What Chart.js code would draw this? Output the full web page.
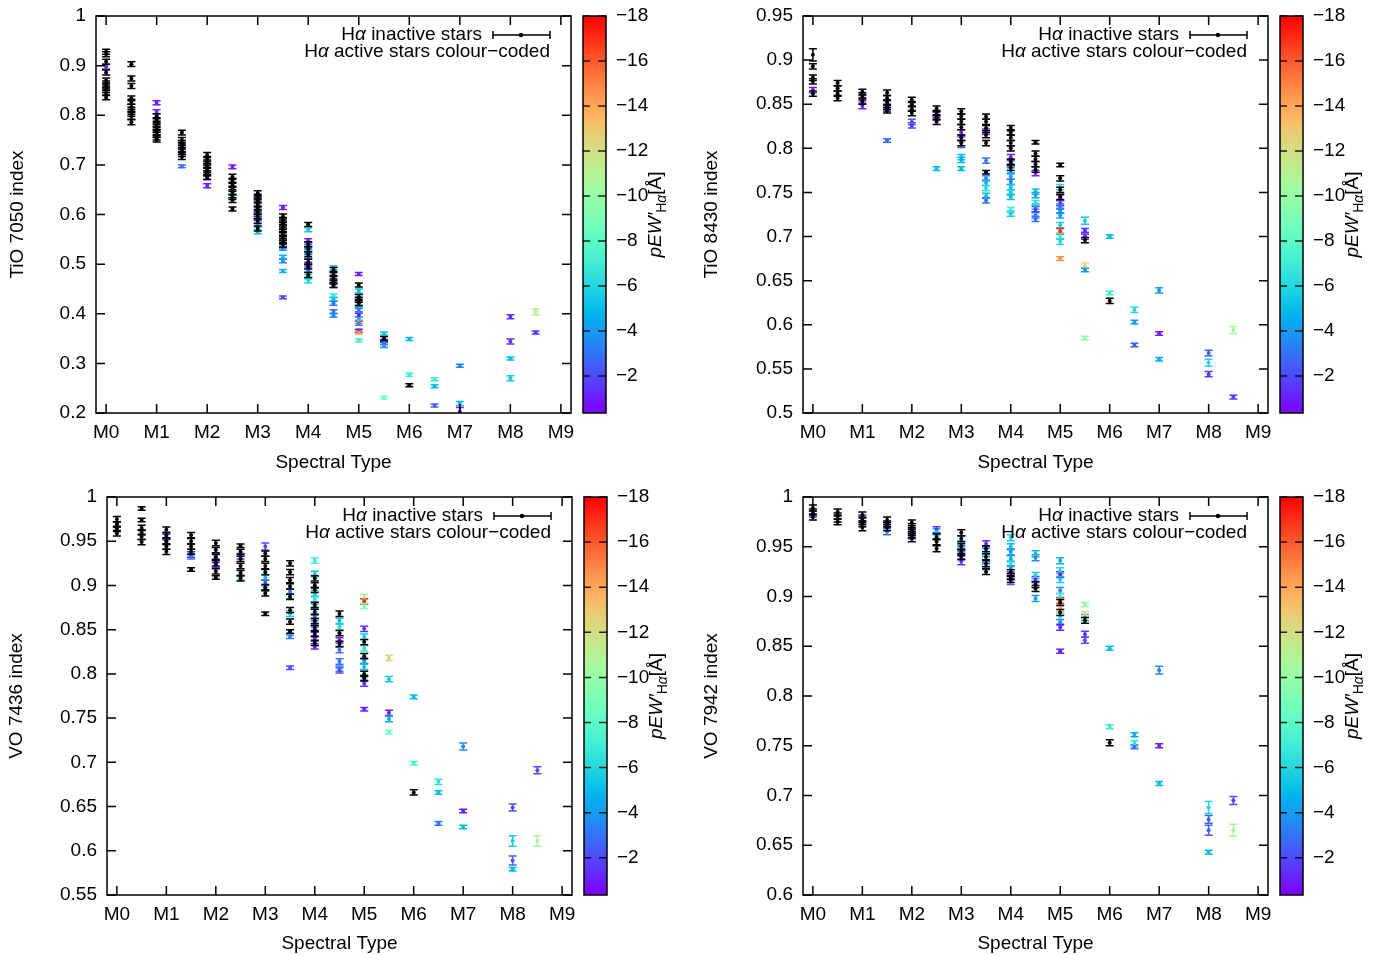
<!DOCTYPE html>
<html>
<head>
<meta charset="utf-8">
<script src="https://cdn.jsdelivr.net/npm/chart.js@4/dist/chart.umd.min.js"></script>
<style>
  body { margin: 0; background: #fff; width: 1383px; height: 955px; position: relative; overflow: hidden; }
  canvas { position: absolute; }
</style>
</head>
<body>
<canvas id="c1" width="691" height="477" style="left:0;top:0"></canvas>
<canvas id="c2" width="691" height="477" style="left:692px;top:0"></canvas>
<canvas id="c3" width="691" height="477" style="left:0;top:478px"></canvas>
<canvas id="c4" width="691" height="477" style="left:692px;top:478px"></canvas>
<script>
// x axis: spectral types
const spectralTicks = [0, 1, 2, 3, 4, 5, 6, 7, 8, 9];
const spectralLabels = ['M0', 'M1', 'M2', 'M3', 'M4', 'M5', 'M6', 'M7', 'M8', 'M9'];

// colour bar (pEW' H-alpha, Angstrom)
const cbMin = -18;
const cbMax = -0.35;
const cbTicks = [-2, -4, -6, -8, -10, -12, -14, -16, -18];

// rows: [spectral type, index, error, pEW]   pEW null = inactive (black)
const tio7050 = [
  [0,.928,.005,null],[0,.923,.005,null],[0,.908,.005,null],[0,.886,.005,null],[0,.870,.005,null],[0,.864,.005,null],[0,.858,.005,null],[0,.851,.005,null],[0,.845,.005,null],[0,.836,.005,null],[0,.898,.005,-1],
  [.5,.903,.005,null],[.5,.874,.005,null],[.5,.859,.005,null],[.5,.834,.005,null],[.5,.827,.005,null],[.5,.817,.005,null],[.5,.811,.005,null],[.5,.803,.005,null],[.5,.797,.005,null],[.5,.786,.005,null],
  [1,.798,.005,null],[1,.790,.005,null],[1,.783,.005,null],[1,.777,.005,null],[1,.771,.005,null],[1,.765,.005,null],[1,.760,.005,null],[1,.755,.005,null],[1,.751,.005,null],[1,.825,.004,-1],[1,.807,.004,-1.5],
  [1.5,.765,.005,null],[1.5,.750,.005,null],[1.5,.744,.005,null],[1.5,.737,.005,null],[1.5,.730,.005,null],[1.5,.722,.005,null],[1.5,.716,.005,null],[1.5,.729,.005,-1],[1.5,.697,.003,-3],
  [2,.720,.005,null],[2,.712,.005,null],[2,.705,.005,null],[2,.698,.005,null],[2,.690,.005,null],[2,.683,.005,null],[2,.676,.005,null],[2,.698,.004,-2.5],[2,.674,.004,-1],[2,.658,.004,-1],
  [2.5,.676,.005,null],[2.5,.668,.005,null],[2.5,.660,.005,null],[2.5,.652,.005,null],[2.5,.645,.005,null],[2.5,.635,.005,null],[2.5,.629,.005,null],[2.5,.611,.004,null],[2.5,.696,.004,-1],[2.5,.638,.004,-5],
  [3,.643,.005,null],[3,.636,.005,null],[3,.628,.005,null],[3,.620,.005,null],[3,.612,.005,null],[3,.605,.005,null],[3,.596,.005,null],[3,.587,.005,null],[3,.572,.005,null],[3,.633,.004,-1],[3,.600,.004,-3],[3,.592,.004,-1],[3,.579,.004,-5],[3,.565,.004,-5],
  [3.5,.596,.005,null],[3.5,.589,.005,null],[3.5,.582,.005,null],[3.5,.575,.005,null],[3.5,.568,.005,null],[3.5,.560,.005,null],[3.5,.553,.005,null],[3.5,.546,.005,null],[3.5,.539,.005,null],[3.5,.614,.004,-1],[3.5,.536,.004,-5],[3.5,.532,.004,-3],[3.5,.514,.004,-5],[3.5,.507,.004,-3.5],[3.5,.486,.003,-5],[3.5,.433,.003,-2],
  [4,.580,.004,null],[4,.540,.005,null],[4,.530,.005,null],[4,.520,.005,null],[4,.505,.005,null],[4,.495,.005,null],[4,.478,.005,null],[4,.569,.004,-5.5],[4,.547,.004,-1],[4,.535,.004,-3],[4,.525,.004,-4.5],[4,.515,.004,-3],[4,.500,.004,-1],[4,.488,.004,-3],[4,.475,.004,-5.5],[4,.466,.004,-6],
  [4.5,.488,.005,null],[4.5,.480,.005,null],[4.5,.472,.005,null],[4.5,.465,.005,null],[4.5,.458,.005,null],[4.5,.492,.004,-5],[4.5,.457,.004,-3],[4.5,.436,.004,-6.5],[4.5,.429,.004,-5],[4.5,.421,.004,-3],[4.5,.404,.004,-3],[4.5,.397,.004,-3.5],
  [5,.458,.004,null],[5,.434,.005,null],[5,.428,.005,null],[5,.421,.005,null],[5,.480,.003,-1],[5,.446,.004,-5],[5,.414,.004,-5.5],[5,.408,.004,-3],[5,.397,.004,-1],[5,.389,.004,-5],[5,.384,.003,-15],[5,.381,.004,-3.5],[5,.366,.003,-1],[5,.362,.003,-14.5],[5,.346,.003,-7],
  [5.5,.350,.004,null],[5.5,.360,.003,-5.5],[5.5,.345,.003,-1],[5.5,.341,.003,-3],[5.5,.335,.003,-4],[5.5,.231,.003,-9],
  [6,.256,.003,null],[6,.349,.003,-5],[6,.277,.003,-7],
  [6.5,.268,.003,-7],[6.5,.254,.003,-5],[6.5,.215,.003,-2.5],
  [7,.295,.003,-3.5],[7,.219,.004,-5],[7,.203,.008,-1],
  [8,.394,.004,-1.5],[8,.344,.005,-1.5],[8,.310,.003,-5],[8,.270,.005,-5.5],
  [8.5,.404,.006,-11],[8.5,.362,.003,-1.5]
];

const tio8430 = [
  [0,.906,.007,null],[0,.893,.003,null],[0,.880,.003,null],[0,.876,.003,null],[0,.862,.003,null],[0,.866,.003,-1],
  [.5,.874,.003,null],[.5,.868,.003,null],[.5,.862,.003,null],[.5,.857,.003,null],
  [1,.864,.003,null],[1,.860,.003,null],[1,.853,.003,null],[1,.857,.003,-1],[1,.848,.003,-1],
  [1.5,.863,.003,null],[1.5,.857,.003,null],[1.5,.852,.003,null],[1.5,.847,.003,null],[1.5,.843,.003,null],[1.5,.845,.003,-1],[1.5,.809,.002,-3],
  [2,.855,.003,null],[2,.850,.003,null],[2,.845,.003,null],[2,.840,.003,null],[2,.830,.003,-2.5],[2,.826,.003,-1.5],
  [2.5,.845,.003,null],[2.5,.840,.003,null],[2.5,.835,.003,null],[2.5,.830,.003,null],[2.5,.838,.003,-1],[2.5,.777,.002,-5],
  [3,.842,.003,null],[3,.836,.003,null],[3,.830,.003,null],[3,.824,.003,null],[3,.812,.003,null],[3,.806,.003,null],[3,.818,.003,-1],[3,.807,.006,-2],[3,.790,.003,-5],[3,.787,.003,-4.5],[3,.777,.002,-5],
  [3.5,.836,.003,null],[3.5,.830,.003,null],[3.5,.823,.003,null],[3.5,.815,.003,null],[3.5,.806,.003,null],[3.5,.773,.002,null],[3.5,.819,.003,-1],[3.5,.786,.003,-3],[3.5,.766,.003,-3.5],[3.5,.761,.003,-5],[3.5,.755,.003,-6],[3.5,.746,.003,-5],[3.5,.741,.003,-3],
  [4,.823,.003,null],[4,.818,.003,null],[4,.812,.003,null],[4,.806,.003,null],[4,.800,.003,null],[4,.785,.003,null],[4,.778,.003,null],[4,.790,.003,-1],[4,.783,.003,-3],[4,.775,.003,-3.5],[4,.768,.003,-4.5],[4,.762,.003,-3],[4,.756,.003,-5],[4,.750,.003,-5.5],[4,.745,.003,-5],[4,.730,.003,-7],[4,.726,.003,-5.5],
  [4.5,.807,.002,null],[4.5,.794,.003,null],[4.5,.788,.003,null],[4.5,.782,.003,null],[4.5,.776,.003,null],[4.5,.772,.003,-1],[4.5,.751,.003,-5],[4.5,.747,.003,-4],[4.5,.738,.003,-6.5],[4.5,.734,.003,-5],[4.5,.731,.003,-1.5],[4.5,.724,.003,-3],[4.5,.720,.003,-3],
  [5,.781,.002,null],[5,.766,.003,null],[5,.753,.003,null],[5,.745,.003,null],[5,.756,.003,-6],[5,.744,.003,-1],[5,.738,.003,-1.5],[5,.734,.003,-3],[5,.729,.003,-3.5],[5,.724,.003,-4],[5,.713,.003,-5.5],[5,.706,.003,-17],[5,.701,.003,-7],[5,.694,.003,-6],[5,.675,.002,-14.5],
  [5.5,.696,.003,null],[5.5,.718,.004,-5.5],[5.5,.707,.002,-1.5],[5.5,.700,.003,-1],[5.5,.667,.003,-12.5],[5.5,.662,.002,-4],[5.5,.585,.002,-10],
  [6,.627,.003,null],[6,.700,.002,-5],[6,.636,.002,-7],
  [6.5,.617,.003,-6],[6.5,.603,.002,-4],[6.5,.577,.002,-2.5],
  [7,.639,.003,-4],[7,.590,.002,-1],[7,.561,.002,-4.5],
  [8,.568,.003,-2.5],[8,.557,.004,-6],[8,.544,.003,-1.5],
  [8.5,.594,.004,-10.5],[8.5,.518,.002,-1.5]
];

const vo7436 = [
  [0,.975,.003,null],[0,.969,.003,null],[0,.964,.003,null],[0,.959,.003,null],[0,.969,.003,-1],
  [.5,.987,.002,null],[.5,.974,.002,null],[.5,.965,.003,null],[.5,.960,.003,null],[.5,.955,.003,null],[.5,.949,.003,null],
  [1,.963,.003,null],[1,.957,.003,null],[1,.950,.003,null],[1,.944,.003,null],[1,.938,.003,null],[1,.955,.003,-1],[1,.949,.003,-1.5],
  [1.5,.957,.003,null],[1.5,.950,.003,null],[1.5,.944,.003,null],[1.5,.938,.003,null],[1.5,.918,.002,null],[1.5,.935,.003,-1],[1.5,.933,.003,-3],
  [2,.948,.003,null],[2,.940,.003,null],[2,.932,.003,null],[2,.925,.003,null],[2,.916,.003,null],[2,.909,.002,null],[2,.933,.003,-2.5],[2,.923,.003,-1],
  [2.5,.945,.002,null],[2.5,.938,.003,null],[2.5,.930,.003,null],[2.5,.922,.003,null],[2.5,.914,.003,null],[2.5,.908,.003,null],[2.5,.933,.003,-1],[2.5,.909,.003,-5],
  [3,.936,.003,null],[3,.930,.003,null],[3,.922,.003,null],[3,.915,.003,null],[3,.898,.003,null],[3,.891,.003,null],[3,.868,.002,null],[3,.944,.004,-2],[3,.909,.003,-5],[3,.903,.003,-2],[3,.897,.003,-5],
  [3.5,.925,.003,null],[3.5,.915,.003,null],[3.5,.906,.003,null],[3.5,.899,.003,null],[3.5,.887,.003,null],[3.5,.872,.003,null],[3.5,.859,.003,null],[3.5,.848,.002,null],[3.5,.893,.003,-3],[3.5,.888,.003,-5],[3.5,.868,.003,-5.5],[3.5,.842,.002,-3],[3.5,.807,.002,-2],
  [4,.908,.003,null],[4,.900,.003,null],[4,.895,.003,null],[4,.878,.003,null],[4,.870,.003,null],[4,.860,.003,null],[4,.852,.003,null],[4,.845,.003,null],[4,.835,.003,null],[4,.928,.003,-7],[4,.913,.003,-5],[4,.891,.003,-5.5],[4,.884,.003,-6.5],[4,.876,.003,-5],[4,.865,.003,-3],[4,.857,.003,-3.5],[4,.850,.003,-2.5],[4,.840,.003,-1.5],[4,.831,.003,-1],
  [4.5,.868,.003,null],[4.5,.846,.003,null],[4.5,.834,.003,null],[4.5,.860,.003,-5],[4.5,.853,.003,-6],[4.5,.838,.003,-1],[4.5,.827,.003,-3],[4.5,.814,.003,-3],[4.5,.806,.003,-3.5],[4.5,.804,.003,-2],
  [5,.836,.003,null],[5,.820,.003,null],[5,.800,.003,null],[5,.795,.003,null],[5,.887,.003,-11],[5,.882,.003,-17],[5,.877,.003,-9],[5,.851,.003,-1.5],[5,.842,.003,-5.5],[5,.829,.003,-6.5],[5,.815,.003,-3.5],[5,.808,.003,-5],[5,.796,.003,-5.5],[5,.789,.003,-1.5],[5,.760,.002,-1],
  [5.5,.818,.003,-12.5],[5.5,.794,.003,-5.5],[5.5,.756,.003,-1],[5.5,.749,.003,-4.5],[5.5,.734,.002,-8.5],
  [6,.666,.003,null],[6,.774,.002,-5],[6,.699,.002,-7.5],
  [6.5,.678,.003,-6.5],[6.5,.666,.002,-5],[6.5,.631,.002,-3],
  [7,.718,.004,-3.5],[7,.645,.002,-1],[7,.627,.002,-5],
  [8,.649,.004,-2],[8,.611,.006,-5.5],[8,.589,.005,-2.5],[8,.579,.002,-5],
  [8.5,.691,.004,-2],[8.5,.611,.006,-10.5]
];

const vo7942 = [
  [0,.989,.003,null],[0,.985,.003,null],[0,.980,.003,null],[0,.983,.003,-1],
  [.5,.985,.003,null],[.5,.981,.003,null],[.5,.978,.003,null],[.5,.975,.003,null],
  [1,.982,.003,null],[1,.977,.003,null],[1,.973,.003,null],[1,.969,.003,null],[1,.979,.003,-1],
  [1.5,.977,.003,null],[1.5,.973,.003,null],[1.5,.969,.003,null],[1.5,.972,.003,-1],[1.5,.965,.003,-3],
  [2,.974,.003,null],[2,.970,.003,null],[2,.966,.003,null],[2,.962,.003,null],[2,.958,.003,null],[2,.965,.003,-2.5],[2,.961,.003,-1],
  [2.5,.960,.003,null],[2.5,.955,.003,null],[2.5,.948,.003,null],[2.5,.967,.003,-1.5],[2.5,.965,.003,-5],
  [3,.964,.003,null],[3,.958,.003,null],[3,.950,.003,null],[3,.944,.003,null],[3,.940,.003,null],[3,.953,.003,-5.5],[3,.948,.003,-3],[3,.945,.003,-1],[3,.935,.003,-1.5],
  [3.5,.948,.003,null],[3.5,.940,.003,null],[3.5,.933,.003,null],[3.5,.925,.003,null],[3.5,.953,.003,-1],[3.5,.945,.003,-5],[3.5,.937,.003,-4.5],[3.5,.930,.003,-3],
  [4,.924,.003,null],[4,.920,.003,null],[4,.917,.003,null],[4,.959,.003,-5.5],[4,.950,.003,-5],[4,.945,.003,-4],[4,.938,.003,-4.5],[4,.933,.003,-6.5],[4,.928,.003,-3],[4,.920,.003,-1],[4,.915,.003,-2.5],
  [4.5,.912,.003,null],[4.5,.908,.003,null],[4.5,.943,.003,-5],[4.5,.939,.003,-3.5],[4.5,.921,.003,-5.5],[4.5,.917,.003,-1.5],[4.5,.898,.003,-4],
  [5,.894,.003,null],[5,.884,.003,null],[5,.936,.003,-4.5],[5,.926,.003,-6],[5,.922,.003,-1],[5,.917,.003,-5.5],[5,.906,.003,-3.5],[5,.900,.003,-7],[5,.896,.003,-17],[5,.888,.003,-14],[5,.880,.003,-7],[5,.874,.003,-3.5],[5,.869,.003,-1],[5,.845,.002,-1],
  [5.5,.876,.003,null],[5.5,.892,.002,-10],[5.5,.882,.003,-12.5],[5.5,.879,.003,-4.5],[5.5,.862,.003,-1.5],[5.5,.856,.003,-2],
  [6,.753,.003,null],[6,.848,.002,-5],[6,.769,.002,-7],
  [6.5,.761,.002,-4.5],[6.5,.752,.003,-6.5],[6.5,.749,.002,-3],
  [7,.826,.004,-3.5],[7,.750,.002,-1],[7,.712,.002,-5],
  [8,.688,.006,-6],[8,.676,.004,-2.5],[8,.665,.005,-2.5],[8,.643,.002,-5],
  [8.5,.695,.004,-2],[8.5,.665,.006,-10.5]
];

// y tick values for each panel
const tio7050Ticks = [0.2, 0.3, 0.4, 0.5, 0.6, 0.7, 0.8, 0.9, 1];
const tio8430Ticks = [0.5, 0.55, 0.6, 0.65, 0.7, 0.75, 0.8, 0.85, 0.9, 0.95];
const vo7436Ticks = [0.55, 0.6, 0.65, 0.7, 0.75, 0.8, 0.85, 0.9, 0.95, 1];
const vo7942Ticks = [0.6, 0.65, 0.7, 0.75, 0.8, 0.85, 0.9, 0.95, 1];

Chart.defaults.font.family = '"Liberation Sans", Arial, sans-serif';
Chart.defaults.font.size = 19;
Chart.defaults.color = '#000';

const FONT = '"Liberation Sans", Arial, sans-serif';

// gnuplot "rainbow" palette (rgbformulae 33,13,10)
function rainbow(t) {
    const r = Math.min(1, Math.abs(2 * t - 0.5));
    const g = Math.max(0, Math.sin(Math.PI * t));
    const b = Math.max(0, Math.cos(Math.PI * t / 2));
    return 'rgb(' + Math.round(r * 255) + ',' + Math.round(g * 255) + ',' + Math.round(b * 255) + ')';
}

function pewColour(v) {
    if (v === null) return '#000';
    let t = (v - cbMax) / (cbMin - cbMax);
    t = Math.max(0, Math.min(1, t));
    return rainbow(t);
}

// draws "Hα ..." with italic alpha, right aligned at xr
function drawHa(ctx, rest, xr, y) {
    ctx.font = '19px ' + FONT;
    const wH = ctx.measureText('H').width;
    const wR = ctx.measureText(rest).width;
    ctx.font = 'italic 19px ' + FONT;
    const wA = ctx.measureText('α').width;
    let x = xr - (wH + wA + wR);
    ctx.textAlign = 'left';
    ctx.textBaseline = 'middle';
    ctx.font = '19px ' + FONT;
    ctx.fillText('H', x, y);
    ctx.font = 'italic 19px ' + FONT;
    ctx.fillText('α', x + wH, y);
    ctx.font = '19px ' + FONT;
    ctx.fillText(rest, x + wH + wA, y);
}

const framePlugin = {
    id: 'frame',
    beforeDatasetDraw(chart, args) {
        // error bars, drawn just before the points of the same dataset
        const {ctx, chartArea: a} = chart;
        const xs = chart.scales.x, ys = chart.scales.y;
        const ds = chart.data.datasets[args.index];
        ctx.save();
        ctx.beginPath();
        ctx.rect(a.left, a.top, a.right - a.left, a.bottom - a.top);
        ctx.clip();
        ctx.lineWidth = 1.5;
        ds.data.forEach(p => {
            const px = xs.getPixelForValue(p.x);
            const y1 = ys.getPixelForValue(p.y + p.e);
            const y2 = ys.getPixelForValue(p.y - p.e);
            ctx.strokeStyle = pewColour(p.c);
            ctx.beginPath();
            ctx.moveTo(px, y1); ctx.lineTo(px, y2);
            ctx.moveTo(px - 4, y1); ctx.lineTo(px + 4, y1);
            ctx.moveTo(px - 4, y2); ctx.lineTo(px + 4, y2);
            ctx.stroke();
        });
        ctx.restore();
    },
    afterDraw(chart) {
        const {ctx, chartArea: a} = chart;
        const xs = chart.scales.x, ys = chart.scales.y, cb = chart.scales.cb;
        ctx.save();
        ctx.strokeStyle = '#000';
        ctx.fillStyle = '#000';
        ctx.lineWidth = 1.5;

        // frame + inside ticks on all sides
        ctx.strokeRect(a.left, a.top, a.right - a.left, a.bottom - a.top);
        ctx.beginPath();
        xs.ticks.forEach(t => {
            const x = xs.getPixelForValue(t.value);
            ctx.moveTo(x, a.bottom); ctx.lineTo(x, a.bottom - 9);
            ctx.moveTo(x, a.top); ctx.lineTo(x, a.top + 9);
        });
        ys.ticks.forEach(t => {
            const y = ys.getPixelForValue(t.value);
            ctx.moveTo(a.left, y); ctx.lineTo(a.left + 9, y);
            ctx.moveTo(a.right, y); ctx.lineTo(a.right - 9, y);
        });
        ctx.stroke();

        // key
        const r = a.right - 21;
        const y1 = a.top + 19, y2 = a.top + 36;
        ctx.beginPath();
        ctx.moveTo(r - 57, y1); ctx.lineTo(r, y1);
        ctx.moveTo(r - 57, y1 - 4); ctx.lineTo(r - 57, y1 + 4);
        ctx.moveTo(r, y1 - 4); ctx.lineTo(r, y1 + 4);
        ctx.stroke();
        ctx.beginPath();
        ctx.arc(r - 29, y1, 2.2, 0, Math.PI * 2);
        ctx.fill();
        drawHa(ctx, ' inactive stars', r - 68, y1);
        drawHa(ctx, ' active stars colour\u2212coded', r, y2);

        // colour box
        const bx = a.right + 12, bw = 23;
        const grad = ctx.createLinearGradient(0, a.bottom, 0, a.top);
        for (let i = 0; i <= 40; i++) grad.addColorStop(i / 40, rainbow(i / 40));
        ctx.fillStyle = grad;
        ctx.fillRect(bx, a.top, bw, a.bottom - a.top);
        ctx.strokeRect(bx, a.top, bw, a.bottom - a.top);
        ctx.fillStyle = '#000';
        ctx.font = '19px ' + FONT;
        ctx.textAlign = 'left';
        ctx.textBaseline = 'middle';
        ctx.strokeStyle = 'rgba(0,0,0,0.85)';
        cbTicks.forEach(v => {
            const y = cb.getPixelForValue(v);
            ctx.beginPath();
            ctx.moveTo(bx, y); ctx.lineTo(bx + 7, y);
            ctx.moveTo(bx + bw - 8, y); ctx.lineTo(bx + bw, y);
            ctx.stroke();
            ctx.fillText('\u2212' + Math.abs(v), bx + bw + 10, y);
        });

        // colour box title: pEW'_{Hα} [Å]
        ctx.save();
        ctx.translate(a.right + 85, (a.top + a.bottom) / 2);
        ctx.rotate(-Math.PI / 2);
        const parts = [
            {t: 'pEW\u2032', f: 'italic 19px ' + FONT, dy: 0},
            {t: 'H', f: '14px ' + FONT, dy: 6},
            {t: 'α', f: 'italic 14px ' + FONT, dy: 6},
            {t: '[Å]', f: '19px ' + FONT, dy: 0}
        ];
        let total = 0;
        parts.forEach(p => { ctx.font = p.f; p.w = ctx.measureText(p.t).width; total += p.w; });
        let x = -total / 2;
        ctx.textAlign = 'left';
        parts.forEach(p => { ctx.font = p.f; ctx.fillText(p.t, x, p.dy); x += p.w; });
        ctx.restore();

        ctx.restore();
    }
};

const panels = [
    {id: 'c1', rows: tio7050, ticks: tio7050Ticks, title: 'TiO 7050 index', ymin: 0.2, ymax: 1, yw: 96, top: 16, right: 120, xh: 64, ytp: 6.6, xtp: 3},
    {id: 'c2', rows: tio8430, ticks: tio8430Ticks, title: 'TiO 8430 index', ymin: 0.5, ymax: 0.95, yw: 111, top: 16, right: 115, xh: 64, ytp: 8.6, xtp: 3},
    {id: 'c3', rows: vo7436, ticks: vo7436Ticks, title: 'VO 7436 index', ymin: 0.55, ymax: 1, yw: 107, top: 19, right: 119, xh: 60, ytp: 5.6, xtp: 0},
    {id: 'c4', rows: vo7942, ticks: vo7942Ticks, title: 'VO 7942 index', ymin: 0.6, ymax: 1, yw: 111, top: 19, right: 115, xh: 60, ytp: 8.6, xtp: 0}
];

function toPoint(r) {
    return {x: r[0], y: r[1], e: r[2], c: r[3]};
}

panels.forEach(p => {
    const inactive = p.rows.filter(r => r[3] === null).map(toPoint);
    const active = p.rows.filter(r => r[3] !== null).map(toPoint);

    new Chart(document.getElementById(p.id), {
        type: 'scatter',
        data: {
            datasets: [
                {data: inactive, pointRadius: 2, pointBorderWidth: 0, pointBackgroundColor: '#000'},
                {data: active, pointRadius: 2, pointBorderWidth: 0, pointBackgroundColor: c => pewColour(c.raw.c)}
            ]
        },
        options: {
            responsive: false,
            animation: false,
            devicePixelRatio: 1,
            layout: {padding: {left: 0, top: p.top, right: p.right, bottom: 0}},
            plugins: {legend: {display: false}, tooltip: {enabled: false}},
            scales: {
                x: {
                    type: 'linear', min: -0.2, max: 9.2,
                    afterBuildTicks: s => { s.ticks = spectralTicks.map(v => ({value: v})); },
                    afterFit: s => { s.height = p.xh; s.paddingLeft = 0; s.paddingRight = 0; },
                    grid: {display: false, drawTicks: false},
                    border: {display: false},
                    ticks: {autoSkip: false, maxRotation: 0, padding: 8, callback: v => spectralLabels[v]},
                    title: {display: true, text: 'Spectral Type', padding: {top: 0, bottom: p.xtp}}
                },
                y: {
                    type: 'linear', min: p.ymin, max: p.ymax,
                    afterBuildTicks: s => { s.ticks = p.ticks.map(v => ({value: v})); },
                    afterFit: s => { s.width = p.yw; s.paddingTop = 0; s.paddingBottom = 0; },
                    grid: {display: false, drawTicks: false},
                    border: {display: false},
                    ticks: {autoSkip: false, padding: 10, callback: v => String(v)},
                    title: {display: true, text: p.title, padding: {top: p.ytp, bottom: 0}}
                },
                cb: {type: 'linear', display: false, position: 'right', min: cbMin, max: cbMax, reverse: true}
            }
        },
        plugins: [framePlugin]
    });
});
</script>
</body>
</html>
